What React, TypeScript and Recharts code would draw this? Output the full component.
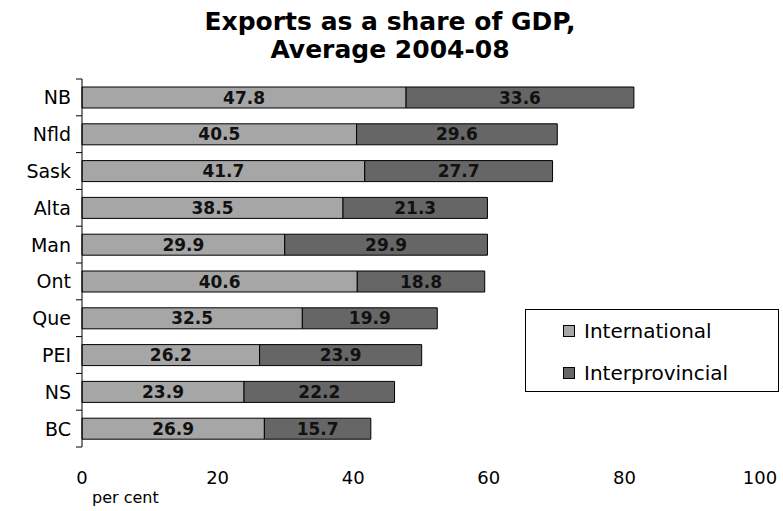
import { BarChart, Bar, XAxis, YAxis, LabelList } from "recharts";

const provinces = ["NB", "Nfld", "Sask", "Alta", "Man", "Ont", "Que", "PEI", "NS", "BC"];
const international = [47.8, 40.5, 41.7, 38.5, 29.9, 40.6, 32.5, 26.2, 23.9, 26.9];
const interprovincial = [33.6, 29.6, 27.7, 21.3, 29.9, 18.8, 19.9, 23.9, 22.2, 15.7];
const xTicks = [0, 20, 40, 60, 80, 100];

const data = provinces.map((name, i) => ({
  name,
  international: international[i],
  interprovincial: interprovincial[i],
}));

const FONT = "'DejaVu Sans', Verdana, sans-serif";
const TOP = 79;
const PLOT_H = 368;
const BAND = PLOT_H / provinces.length;

const CategoryTick = (props: any) => {
  const { y, payload, index } = props;
  const ax = 82;
  return (
    <g>
      <line x1={ax - 6} x2={ax} y1={y - BAND / 2} y2={y - BAND / 2} stroke="#000" />
      {index === provinces.length - 1 && (
        <line x1={ax - 6} x2={ax} y1={y + BAND / 2} y2={y + BAND / 2} stroke="#000" />
      )}
      <text x={ax - 11} y={y} dy={7} textAnchor="end" fontSize={19} fill="#000" fontFamily={FONT}>
        {payload.value}
      </text>
    </g>
  );
};

const legendItems = [
  { label: "International", color: "#a6a6a6" },
  { label: "Interprovincial", color: "#666666" },
];

export default function App() {
  return (
    <div style={{ position: "absolute", left: 0, top: 0, width: 783, height: 511, background: "#fff" }}>
      <div
        style={{
          position: "absolute",
          left: 0,
          top: 8,
          width: 780,
          textAlign: "center",
          fontFamily: FONT,
          fontWeight: "bold",
          fontSize: 25,
          lineHeight: "28px",
        }}
      >
        Exports as a share of GDP,
        <br />
        Average 2004-08
      </div>
      <BarChart
        width={783}
        height={511}
        data={data}
        layout="vertical"
        margin={{ top: TOP, right: 23, bottom: 24, left: 0 }}
        barSize={21}
      >
        <XAxis
          type="number"
          domain={[0, 100]}
          ticks={xTicks}
          axisLine={false}
          tickLine={false}
          height={40}
          tickMargin={18}
          tick={{ fontSize: 18, fill: "#000", fontFamily: FONT }}
        />
        <YAxis
          type="category"
          dataKey="name"
          width={82}
          axisLine={{ stroke: "#000" }}
          tickLine={false}
          tick={<CategoryTick />}
          interval={0}
        />
        <Bar dataKey="international" stackId="a" fill="#a6a6a6" stroke="#000" strokeWidth={1} isAnimationActive={false}>
          <LabelList dataKey="international" position="center" fontSize={17} fontWeight="bold" fill="#111" fontFamily={FONT} />
        </Bar>
        <Bar dataKey="interprovincial" stackId="a" fill="#666666" stroke="#000" strokeWidth={1} isAnimationActive={false}>
          <LabelList dataKey="interprovincial" position="center" fontSize={17} fontWeight="bold" fill="#111" fontFamily={FONT} />
        </Bar>
      </BarChart>
      <div
        style={{
          position: "absolute",
          left: 525,
          top: 309,
          width: 254,
          height: 83,
          border: "1px solid #000",
          background: "#fff",
          fontFamily: FONT,
          fontSize: 20,
          boxSizing: "border-box",
          paddingLeft: 37,
        }}
      >
        {legendItems.map((it, i) => (
          <div key={it.label} style={{ display: "flex", alignItems: "center", height: 24, marginTop: i === 0 ? 9 : 18 }}>
            <span style={{ width: 10, height: 10, background: it.color, border: "1px solid #000", marginRight: 9 }} />
            <span>{it.label}</span>
          </div>
        ))}
      </div>
      <div style={{ position: "absolute", left: 92, top: 490, fontFamily: FONT, fontSize: 16, lineHeight: "16px" }}>
        per cent
      </div>
    </div>
  );
}
